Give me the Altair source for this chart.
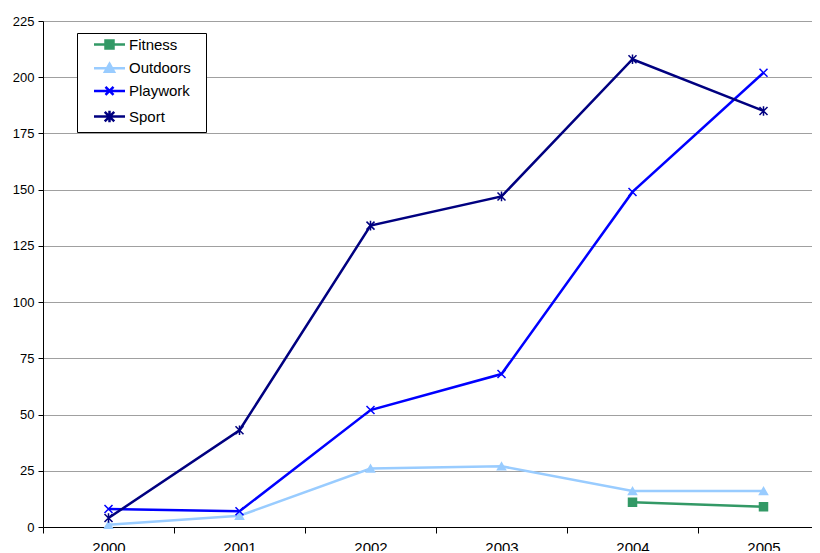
import altair as alt
import pandas as pd

years = ["2000", "2001", "2002", "2003", "2004", "2005"]
series_names = ["Fitness", "Outdoors", "Playwork", "Sport"]
fitness = [None, None, None, None, 11, 9]
outdoors = [1, 5, 26, 27, 16, 16]
playwork = [8, 7, 52, 68, 149, 202]
sport = [4, 43, 134, 147, 208, 185]
colors = ["#339966", "#99CCFF", "#0000FF", "#000080"]
y_ticks = [0, 25, 50, 75, 100, 125, 150, 175, 200, 225]

rows = []
for name, vals in zip(series_names, [fitness, outdoors, playwork, sport]):
    for yr, v in zip(years, vals):
        if v is not None:
            rows.append({"year": yr, "series": name, "value": v})
df = pd.DataFrame(rows)

FONT = "Liberation Sans"

marker_shapes = [
    "square",
    "triangle-up",
    "M-1,-1L1,1M-1,1L1,-1",
    "M-1,-1L1,1M-1,1L1,-1M0,-1.2L0,1.2",
]
legend_shapes = [
    "M-3.1,0L3.1,0M-0.8,-0.8L0.8,-0.8L0.8,0.8L-0.8,0.8Z",
    "M-3.1,0L3.1,0M0,-0.9L0.9,0.7L-0.9,0.7Z",
    "M-3.1,0L3.1,0M-0.8,-0.8L0.8,0.8M-0.8,0.8L0.8,-0.8",
    "M-3.1,0L3.1,0M-0.95,-0.95L0.95,0.95M-0.95,0.95L0.95,-0.95M0,-1.15L0,1.15",
]

x_enc = alt.X(
    "year:O",
    sort=years,
    scale=alt.Scale(type="band", domain=years, paddingInner=0, paddingOuter=0, range=[0, 786]),
    axis=alt.Axis(
        title=None, labelAngle=0, tickBand="extent", domainColor="black",
        tickColor="black", tickSize=6, labelPadding=7, labelFontSize=15,
        labelFont=FONT, labelColor="black", grid=False,
    ),
)
y_enc = alt.Y(
    "value:Q",
    scale=alt.Scale(domain=[0, 225], nice=False),
    axis=alt.Axis(
        title=None, values=y_ticks, grid=True, gridColor="#A0A0A0",
        domainColor="black", tickColor="black", tickSize=5, labelPadding=4,
        labelFontSize=13, labelFont=FONT, labelColor="black",
        minExtent=35, maxExtent=35,
    ),
)

cscale = alt.Scale(domain=series_names, range=colors)

lines = alt.Chart(df).mark_line(strokeWidth=2.5).encode(
    x=x_enc, y=y_enc,
    color=alt.Color("series:N", scale=cscale, legend=None),
    detail="series:N",
)

points = alt.Chart(df).mark_point(filled=True, opacity=1, strokeWidth=1.5).encode(
    x=x_enc, y=y_enc,
    fill=alt.Fill("series:N", scale=cscale, legend=None),
    stroke=alt.Stroke("series:N", scale=cscale, legend=None),
    shape=alt.Shape("series:N", scale=alt.Scale(domain=series_names, range=marker_shapes), legend=None),
    size=alt.Size("series:N", scale=alt.Scale(domain=series_names, range=[64, 64, 72, 90]), legend=None),
)

legend = alt.Legend(
    title="\u00a0", titleOrient="right", titlePadding=11, titleFontSize=15,
    orient="none", legendX=34, legendY=12, direction="vertical",
    strokeColor="black", fillColor="white", padding=4, labelFontSize=15,
    labelFont=FONT, labelColor="black", symbolStrokeWidth=2.5, rowPadding=4.7,
    labelOffset=12, symbolSize=100, symbolOffset=21,
)

legend_layer = alt.Chart(df).transform_filter("false").mark_point(
    filled=True, opacity=1, size=100, strokeWidth=2.5
).encode(
    x=x_enc, y=y_enc,
    fill=alt.Fill("series:N", scale=cscale, legend=legend),
    stroke=alt.Stroke("series:N", scale=cscale, legend=legend),
    shape=alt.Shape("series:N", scale=alt.Scale(domain=series_names, range=legend_shapes), legend=legend),
)

chart = alt.layer(lines, points, legend_layer).resolve_scale(
    color="independent", fill="independent", stroke="independent",
    shape="independent", size="independent",
).properties(
    width=769, height=506,
    autosize=alt.AutoSizeParams(type="none"),
    padding={"left": 35, "top": 13, "right": 0, "bottom": 24},
).configure_view(stroke=None)

chart.save("out.html", embed_options={"renderer": "svg", "actions": False})
